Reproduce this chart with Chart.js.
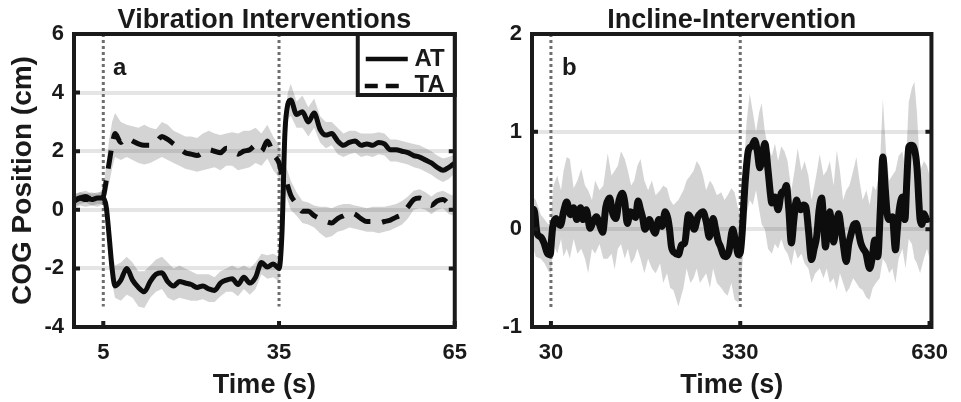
<!DOCTYPE html>
<html>
<head>
<meta charset="utf-8">
<script src="https://cdn.jsdelivr.net/npm/chart.js@4.4.1/dist/chart.umd.min.js"></script>
<style>
  html, body { margin: 0; padding: 0; background: #fff; }
  #wrap { position: relative; width: 961px; height: 402px; }
  .panel { position: absolute; top: 0; height: 402px; }
</style>
</head>
<body>
<div id="wrap">
  <div class="panel" style="left:0;width:480px"><canvas id="vibChart" width="480" height="402"></canvas></div>
  <div class="panel" style="left:480px;width:481px"><canvas id="inclChart" width="481" height="402"></canvas></div>
</div>
<script>
// --- panel a : vibration interventions (time in s, COG in cm) ---
const vibT = [0,1,2,3,4,5,5.5,6,6.5,7,
  8,9,10,11,12,13,14,15,16,17,
  18,19,20,21,22,23,24,25,26,27,
  28,29,30,31,32,33,34,35,35.5,36,
  36.5,37,38,39,40,41,42,43,44,45,
  46,47,48,49,50,51,52,53,54,55,
  56,57,58,59,60,61,62,63,64,65];
const atMean = [0.3,0.4,0.45,0.35,0.4,0.4,0.1,-0.9,-2.0,-2.6,
  -2.4,-2.0,-2.4,-2.65,-2.8,-2.45,-2.2,-2.15,-2.45,-2.6,
  -2.45,-2.5,-2.55,-2.65,-2.6,-2.7,-2.75,-2.5,-2.4,-2.35,
  -2.55,-2.3,-2.5,-2.3,-1.8,-1.95,-1.85,-2.0,-0.8,2.6,
  3.6,3.75,3.25,3.35,3.0,3.3,2.75,2.55,2.6,2.35,
  2.2,2.3,2.35,2.2,2.25,2.2,2.3,2.25,2.05,2.05,
  2.0,1.95,1.85,1.8,1.7,1.6,1.45,1.35,1.45,1.6];
const atHi = [0.5,0.6,0.65,0.55,0.6,0.6,0.4,-0.3,-1.5,-1.9,
  -1.8,-1.6,-1.8,-2.1,-2.1,-1.9,-1.7,-1.6,-1.8,-2.0,
  -1.9,-2.0,-2.1,-2.2,-2.2,-2.2,-2.3,-2.1,-2.0,-1.9,
  -2.0,-1.9,-2.0,-1.8,-1.5,-1.55,-1.5,-1.6,-0.2,3.1,
  4.0,4.3,3.7,3.9,3.5,3.8,3.2,3.0,3.0,2.8,
  2.6,2.7,2.7,2.6,2.6,2.6,2.65,2.6,2.4,2.4,
  2.35,2.3,2.25,2.2,2.1,2.0,1.85,1.75,1.8,1.9];
const atLo = [0.1,0.2,0.25,0.15,0.2,0.2,-0.2,-1.5,-2.5,-3.0,
  -3.1,-2.9,-3.0,-3.3,-3.35,-3.0,-2.8,-2.7,-3.0,-3.1,
  -3.0,-3.05,-3.1,-3.1,-3.05,-3.15,-3.15,-2.95,-2.8,-2.8,
  -2.95,-2.7,-2.9,-2.7,-2.2,-2.35,-2.3,-2.45,-1.4,2.0,
  3.1,3.2,2.8,2.8,2.5,2.8,2.3,2.1,2.2,1.9,
  1.8,1.9,1.95,1.8,1.85,1.8,1.9,1.85,1.65,1.65,
  1.6,1.55,1.45,1.4,1.3,1.2,1.05,0.95,1.05,1.25];
const taMean = [0.3,0.4,0.35,0.4,0.35,0.45,1.0,1.6,2.2,2.6,
  2.3,2.45,2.35,2.25,2.2,2.2,2.3,2.5,2.4,2.25,
  2.1,1.95,1.9,1.85,1.95,2.05,2.0,1.95,2.1,2.05,
  1.9,2.0,2.05,2.2,2.0,2.35,1.9,1.6,1.2,1.1,
  0.8,0.5,0.2,-0.05,-0.05,-0.2,-0.3,-0.4,-0.45,-0.3,
  -0.2,-0.1,-0.15,-0.3,-0.4,-0.4,-0.45,-0.4,-0.35,-0.25,
  -0.15,0.1,0.35,0.4,0.3,0.15,0.3,0.35,0.2,0.1];
const taHi = [0.55,0.6,0.55,0.6,0.55,0.7,1.5,2.4,3.0,3.3,
  3.0,2.9,2.85,2.8,2.9,2.8,2.75,3.0,2.9,2.7,
  2.6,2.5,2.5,2.45,2.6,2.7,2.6,2.55,2.6,2.65,
  2.6,2.7,2.7,2.8,2.6,2.9,2.5,2.2,1.7,1.6,
  1.3,1.0,0.6,0.3,0.25,0.15,0.1,0.1,0.05,0.15,
  0.2,0.2,0.15,0.1,0.05,0.1,0.1,0.1,0.15,0.2,
  0.3,0.45,0.65,0.7,0.6,0.45,0.6,0.65,0.55,0.45];
const taLo = [0.05,0.15,0.1,0.15,0.1,0.2,0.5,0.9,1.4,1.8,
  1.7,1.8,1.7,1.6,1.55,1.6,1.7,1.8,1.7,1.6,
  1.5,1.4,1.35,1.3,1.35,1.4,1.45,1.35,1.5,1.5,
  1.35,1.4,1.45,1.6,1.5,1.75,1.35,1.1,0.7,0.6,
  0.3,0.0,-0.2,-0.45,-0.5,-0.6,-0.8,-0.95,-0.9,-0.75,
  -0.7,-0.6,-0.65,-0.7,-0.75,-0.75,-0.8,-0.75,-0.7,-0.6,
  -0.5,-0.3,0.0,0.05,0.0,-0.15,0.0,0.05,-0.15,-0.2];
const vibEvents = [5, 35];
const vibEventSpan = [6, -3.3];
const vibXTicks = [5, 35, 65];

// --- panel b : incline intervention ---
const inclT = [0,4,8,14,19,24,29,31,33,38,
  42,45,50,55,61,66,71,77,81,86,
  92,97,102,108,112,117,123,128,133,138,
  143,147,151,156,160,164,168,172,175,179,
  183,186,190,195,201,206,211,215,218,221,
  226,232,237,242,248,252,257,263,268,271,
  276,281,287,291,295,299,303,307,312,318,
  323,327,330,333,336,338,343,348,353,357,
  361,365,369,374,378,380,385,390,395,400,
  403,407,411,415,419,423,426,430,434,438,
  443,447,451,455,459,462,465,469,472,475,
  478,482,486,490,493,498,502,506,510,514,
  518,521,525,529,535,539,543,548,552,556,
  560,563,566,571,576,579,582,587,591,594,
  597,601,605,610,615,618,621,626,630];
const inclMean = [0.22,0.18,-0.04,-0.08,-0.14,-0.24,-0.26,-0.1,0.03,0.11,
  0.06,0.04,0.18,0.28,0.15,0.22,0.10,0.22,0.10,0.2,
  0.01,0.08,0.13,0.03,-0.03,0.23,0.32,0.16,0.11,0.3,
  0.37,0.28,0.06,0.18,0.15,0.12,0.29,0.2,0.13,0.0,
  0.05,0.1,0.03,-0.04,0.1,0.03,0.18,0.12,0.0,-0.18,
  -0.24,-0.26,-0.16,-0.14,0.15,0.11,0.0,0.13,0.17,0.18,
  0.08,-0.08,0.11,0.0,-0.12,-0.18,-0.26,-0.28,-0.23,0.0,
  -0.14,-0.26,-0.24,-0.04,0.3,0.5,0.81,0.85,0.91,0.8,
  0.63,0.75,0.88,0.61,0.35,0.27,0.33,0.2,0.37,0.4,
  0.45,0.2,-0.14,0.1,0.3,0.22,0.2,0.25,0.23,0.0,
  -0.31,-0.2,-0.08,0.2,0.32,0.1,-0.18,0.05,0.18,0.0,
  -0.13,0.05,0.16,0.0,-0.14,-0.33,-0.15,-0.04,0.05,0.06,
  -0.05,-0.14,-0.2,-0.24,-0.4,-0.3,-0.11,-0.28,0.2,0.74,
  0.4,0.15,0.1,0.13,-0.21,0.0,0.2,0.33,0.1,0.5,
  0.84,0.86,0.84,0.64,0.1,0.05,0.16,0.1,0.12];
const inclBandT = [0,6,14,20,26,30,34,40,46,50,
  55,60,66,72,78,84,89,95,100,107,
  113,120,126,131,136,141,147,152,157,162,
  167,172,178,184,190,196,203,208,214,219,
  224,232,240,245,251,256,261,266,271,276,
  282,287,293,300,305,310,316,321,327,331,
  335,340,345,350,355,360,364,369,374,380,
  385,390,395,400,405,411,416,421,427,432,
  438,443,449,456,462,467,472,478,483,488,
  493,498,503,509,514,519,524,530,535,540,
  545,551,556,561,566,571,576,581,587,592,
  597,602,606,610,615,621,626,630];
const inclHi = [0.35,0.3,0.15,0.1,0.05,0.1,0.45,0.55,0.4,0.6,
  0.74,0.72,0.42,0.5,0.62,0.45,0.4,0.3,0.5,0.4,
  0.45,0.78,0.55,0.6,0.65,0.8,0.72,0.6,0.45,0.5,
  0.65,0.72,0.5,0.4,0.5,0.35,0.4,0.45,0.42,0.3,
  0.25,0.3,0.4,0.5,0.55,0.6,0.7,0.65,0.55,0.4,
  0.5,0.45,0.35,0.38,0.3,0.35,0.42,0.38,0.2,0.1,
  0.5,1.1,1.39,1.2,1.0,1.2,1.29,1.0,0.85,0.75,
  0.88,0.7,0.85,0.8,0.7,0.4,0.6,0.83,0.6,0.7,
  0.55,0.3,0.5,0.77,0.55,0.6,0.7,0.45,0.81,0.6,
  0.3,0.4,0.45,0.6,0.74,0.5,0.3,0.4,0.25,0.45,
  0.4,0.6,1.34,0.8,0.5,0.55,0.6,0.75,0.8,0.6,
  1.3,1.45,1.51,1.2,0.6,0.7,0.65,0.55];
const inclLo = [-0.15,-0.28,-0.3,-0.35,-0.43,-0.45,-0.15,-0.25,-0.1,-0.28,
  -0.2,-0.3,-0.1,-0.25,-0.2,-0.3,-0.45,-0.2,-0.25,-0.15,
  -0.3,-0.3,-0.25,-0.41,-0.2,-0.15,-0.3,-0.2,-0.35,-0.3,
  -0.2,-0.3,-0.45,-0.3,-0.4,-0.45,-0.35,-0.55,-0.45,-0.6,
  -0.62,-0.79,-0.6,-0.4,-0.55,-0.5,-0.4,-0.55,-0.5,-0.45,
  -0.6,-0.4,-0.55,-0.6,-0.65,-0.68,-0.55,-0.72,-0.75,-0.6,
  -0.2,0.15,0.3,0.25,0.4,0.2,0.05,0.0,-0.2,-0.25,
  -0.15,-0.2,-0.1,-0.2,-0.25,-0.37,-0.2,-0.3,-0.25,-0.35,
  -0.4,-0.55,-0.45,-0.4,-0.5,-0.4,-0.55,-0.5,-0.62,-0.45,
  -0.55,-0.65,-0.6,-0.5,-0.55,-0.6,-0.62,-0.7,-0.72,-0.6,
  -0.55,-0.5,-0.3,-0.35,-0.45,-0.4,-0.55,-0.3,-0.2,-0.4,
  -0.1,-0.15,-0.3,-0.35,-0.45,-0.3,-0.2,-0.3];
const inclEvents = [30, 330];
const inclEventSpan = [2, -0.8];
const inclXTicks = [30, 330, 630];

// --- styles ---
const INK = '#1a1a1a';
const BAND = 'rgba(0,0,0,0.17)';
const GRID = 'rgba(0,0,0,0.1)';
const EVENT = '#6e6e6e';
const FONT = '"Liberation Sans", Arial, sans-serif';

Chart.defaults.font.family = FONT;
Chart.defaults.font.weight = 'bold';
Chart.defaults.color = INK;

const pts = (xs, ys) => xs.map((x, i) => ({ x: x, y: ys[i] }));

function bandSets(xs, hi, lo) {
    return [
        { data: pts(xs, hi), borderColor: 'transparent', borderWidth: 0, pointRadius: 0,
          backgroundColor: BAND, fill: '+1', tension: 0, order: 3 },
        { data: pts(xs, lo), borderColor: 'transparent', borderWidth: 0, pointRadius: 0,
          fill: false, tension: 0, order: 3 }
    ];
}

function eventSets(times, span) {
    return times.map(t => ({
        data: span.map(y => ({ x: t, y: y })),
        borderColor: EVENT, borderWidth: 3, borderDash: [3, 3],
        pointRadius: 0, fill: false, order: 2
    }));
}

function lineSet(xs, ys, width, dash) {
    return {
        data: pts(xs, ys), borderColor: '#0d0d0d', borderWidth: width,
        borderDash: dash || [], pointRadius: 0, fill: false,
        cubicInterpolationMode: 'monotone', borderCapStyle: 'butt',
        borderJoinStyle: 'round', order: 0
    };
}

// frame, inward ticks, panel titles, letters and legend
const framePlugin = {
    id: 'frame',
    afterDatasetsDraw(chart, args, opts) {
        const { ctx, chartArea: ca, scales } = chart;
        ctx.save();
        ctx.strokeStyle = INK;
        ctx.lineWidth = 4;
        ctx.setLineDash([]);
        ctx.beginPath();
        scales.y.ticks.forEach(t => {
            const py = scales.y.getPixelForValue(t.value);
            ctx.moveTo(ca.left, py); ctx.lineTo(ca.left + 6, py);
            ctx.moveTo(ca.right, py); ctx.lineTo(ca.right - 6, py);
        });
        scales.x.ticks.forEach(t => {
            const px = scales.x.getPixelForValue(t.value);
            ctx.moveTo(px, ca.bottom); ctx.lineTo(px, ca.bottom - 6);
        });
        ctx.stroke();
        ctx.strokeRect(ca.left, ca.top, ca.width, ca.height);

        // panel letter
        ctx.fillStyle = INK;
        ctx.font = 'bold 24px ' + FONT;
        ctx.textAlign = 'left';
        ctx.textBaseline = 'alphabetic';
        ctx.fillText(opts.letter, ca.left + opts.letterDx, ca.top + 41);

        // title
        ctx.font = 'bold 27px ' + FONT;
        ctx.textAlign = 'center';
        ctx.fillText(opts.title, (ca.left + ca.right) / 2, 28);

        if (opts.legend) {
            const w = 97, h = 61;
            const x0 = ca.right - w, y0 = ca.top;
            ctx.fillStyle = '#fff';
            ctx.fillRect(x0, y0, w, h);
            ctx.save();
            ctx.beginPath();
            ctx.rect(x0, y0, w, h);
            ctx.clip();
            ctx.strokeStyle = '#0d0d0d';
            ctx.lineWidth = 4.5;
            ctx.beginPath();
            ctx.moveTo(x0 + 8, y0 + 25); ctx.lineTo(x0 + 50, y0 + 25);
            ctx.stroke();
            ctx.setLineDash([13, 8]);
            ctx.beginPath();
            ctx.moveTo(x0 + 7, y0 + 52); ctx.lineTo(x0 + 42, y0 + 52);
            ctx.stroke();
            ctx.setLineDash([]);
            ctx.fillStyle = INK;
            ctx.font = 'bold 24px ' + FONT;
            ctx.textAlign = 'right';
            ctx.textBaseline = 'middle';
            ctx.fillText('AT', ca.right - 10, y0 + 25);
            ctx.fillText('TA', ca.right - 10, y0 + 51);
            ctx.restore();
            ctx.strokeStyle = INK;
            ctx.lineWidth = 4;
            ctx.strokeRect(x0, y0, w, h);
        }
        ctx.restore();
    }
};

function makeOptions(cfg) {
    return {
        responsive: false,
        animation: false,
        layout: { padding: { top: 34, right: cfg.padRight, bottom: 0, left: 0 } },
        plugins: {
            legend: { display: false },
            tooltip: { enabled: false },
            frame: cfg.frame
        },
        scales: {
            x: {
                type: 'linear', min: cfg.xMin, max: cfg.xMax,
                afterBuildTicks: s => { s.ticks = cfg.xTicks.map(v => ({ value: v })); },
                afterFit: s => { s.height = 75; },
                grid: { display: false, drawTicks: false },
                border: { display: false },
                ticks: { padding: 13, font: { size: 22, weight: 'bold' }, color: INK, maxRotation: 0 },
                title: { display: true, text: 'Time (s)', font: { size: 27, weight: 'bold' },
                         color: INK, padding: { top: 0, bottom: 0 } }
            },
            y: {
                min: cfg.yMin, max: cfg.yMax,
                afterFit: s => { s.width = cfg.yWidth; },
                grid: { color: GRID, lineWidth: 4, drawTicks: false },
                border: { display: false },
                ticks: { stepSize: cfg.yStep, padding: 10, font: { size: 22, weight: 'bold' }, color: INK },
                title: { display: !!cfg.yTitle, text: cfg.yTitle || '', font: { size: 28, weight: 'bold' },
                         color: INK, padding: { top: 6, bottom: 0 } }
            }
        }
    };
}

new Chart(document.getElementById('vibChart'), {
    type: 'line',
    data: {
        datasets: [
            ...bandSets(vibT, atHi, atLo),
            ...bandSets(vibT, taHi, taLo),
            ...eventSets(vibEvents, vibEventSpan),
            lineSet(vibT, atMean, 5),
            lineSet(vibT, taMean, 5, [18, 12])
        ]
    },
    options: makeOptions({
        padRight: 3, xMin: 0, xMax: 65, xTicks: vibXTicks,
        yMin: -4, yMax: 6, yStep: 2, yWidth: 74, yTitle: 'COG Position (cm)',
        frame: { title: 'Vibration Interventions', letter: 'a', letterDx: 39, legend: true }
    }),
    plugins: [framePlugin]
});

new Chart(document.getElementById('inclChart'), {
    type: 'line',
    data: {
        datasets: [
            ...bandSets(inclBandT, inclHi, inclLo),
            ...eventSets(inclEvents, inclEventSpan),
            lineSet(inclT, inclMean, 7)
        ]
    },
    options: makeOptions({
        padRight: 21, xMin: 0, xMax: 633, xTicks: inclXTicks,
        yMin: -1, yMax: 2, yStep: 1, yWidth: 52, yTitle: null,
        frame: { title: 'Incline-Intervention', letter: 'b', letterDx: 30, legend: false }
    }),
    plugins: [framePlugin]
});
</script>
</body>
</html>
